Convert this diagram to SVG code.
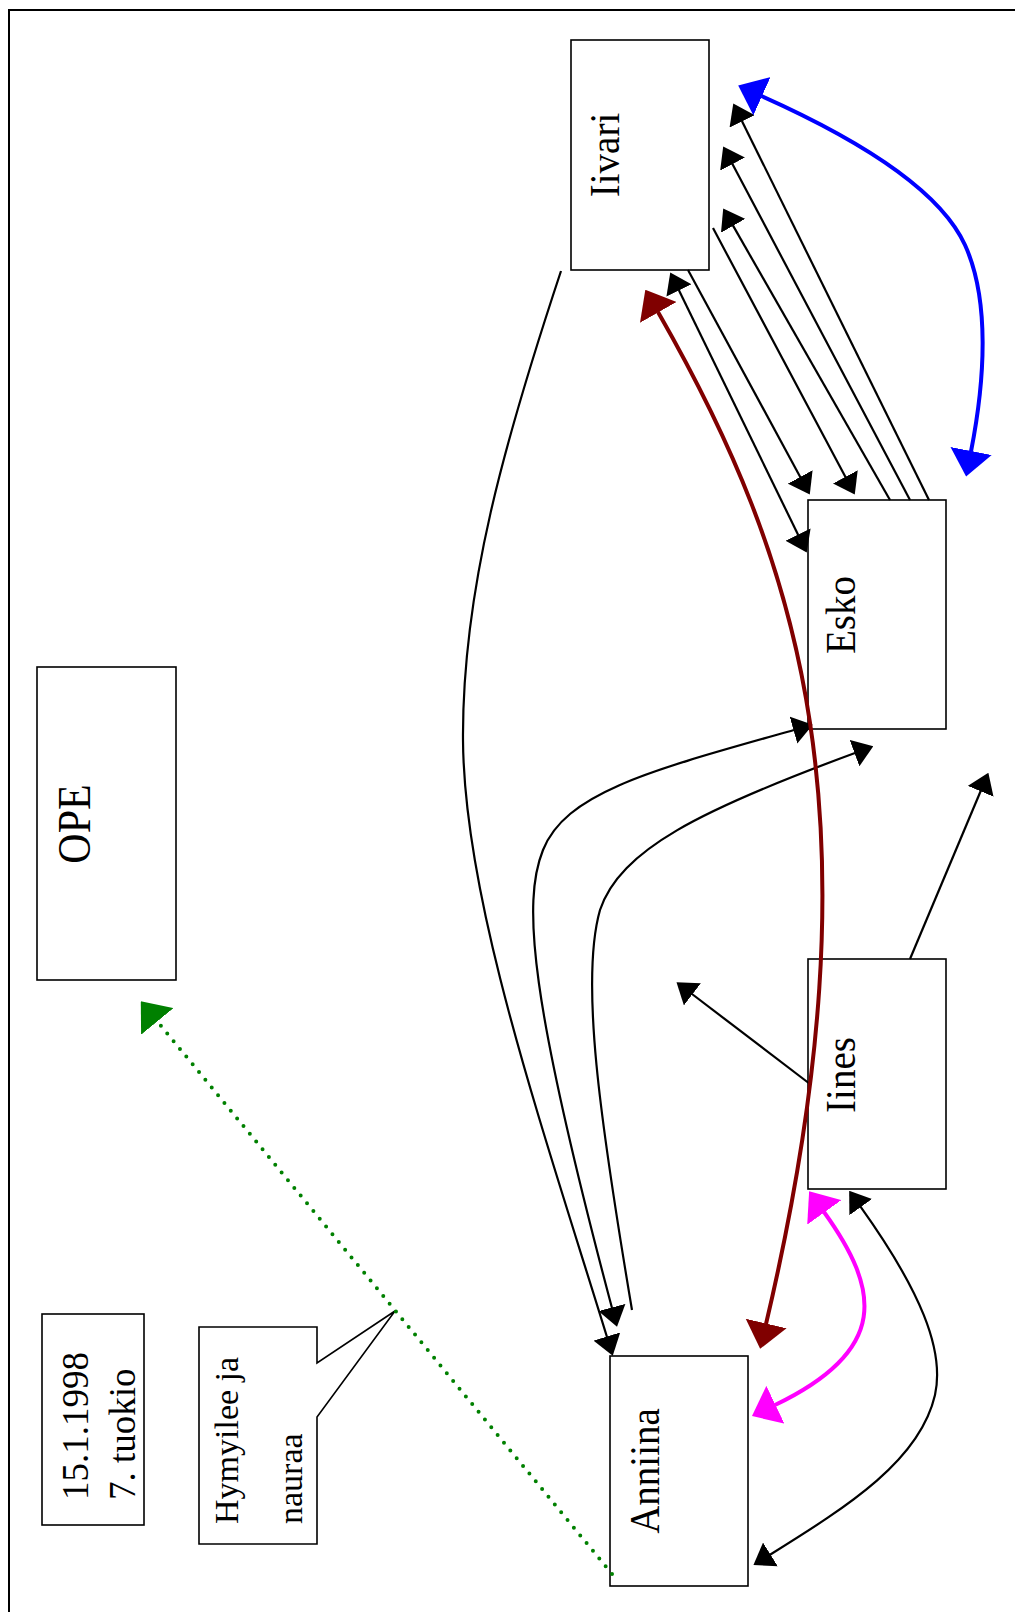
<svg xmlns="http://www.w3.org/2000/svg" width="1015" height="1612" viewBox="0 0 1015 1612">
  <style>
    .box { fill: #fff; stroke: #000; stroke-width: 1.6; }
    .lbl { font-family: "Liberation Serif", "Times New Roman", serif; fill: #000; }
    .node-lbl { font-size: 39px; text-anchor: middle; }
    .note { font-size: 37px; }
    .call { font-size: 34px; }
    .k { fill: none; stroke: #000; stroke-width: 2.2; }
    .blue { fill: none; stroke: #0000ff; stroke-width: 4; }
    .maroon { fill: none; stroke: #800000; stroke-width: 4; }
    .mag { fill: none; stroke: #ff00ff; stroke-width: 4; }
    .green { fill: none; stroke: #008000; stroke-width: 4; stroke-dasharray: 0 10; stroke-linecap: round; }
  </style>
  <defs>
    <marker id="hK" markerUnits="userSpaceOnUse" viewBox="0 -14 20 28" markerWidth="20" markerHeight="28" refX="0.5" refY="0" orient="auto-start-reverse">
      <path d="M0,-14 L20,0 L0,14 z" fill="#000"/>
    </marker>
    <marker id="hB" markerUnits="userSpaceOnUse" viewBox="0 -21 26 42" markerWidth="26" markerHeight="42" refX="0.5" refY="0" orient="auto-start-reverse">
      <path d="M0,-21 L26,0 L0,21 z" fill="#0000ff"/>
    </marker>
    <marker id="hM" markerUnits="userSpaceOnUse" viewBox="0 -21 26 42" markerWidth="26" markerHeight="42" refX="0.5" refY="0" orient="auto-start-reverse">
      <path d="M0,-21 L26,0 L0,21 z" fill="#800000"/>
    </marker>
    <marker id="hP" markerUnits="userSpaceOnUse" viewBox="0 -21 26 42" markerWidth="26" markerHeight="42" refX="0.5" refY="0" orient="auto-start-reverse">
      <path d="M0,-21 L26,0 L0,21 z" fill="#ff00ff"/>
    </marker>
    <marker id="hG" markerUnits="userSpaceOnUse" viewBox="0 -21 26 42" markerWidth="26" markerHeight="42" refX="0.5" refY="0" orient="auto">
      <path d="M0,-21 L26,0 L0,21 z" fill="#008000"/>
    </marker>
  </defs>

  <rect width="1015" height="1612" fill="#fff"/>
  <!-- page frame (top and left edges) -->
  <path d="M9,1612 V10 H1015" fill="none" stroke="#000" stroke-width="2"/>

  <g id="iivari">
    <rect class="box" x="571" y="40" width="138" height="230"/>
    <text class="lbl node-lbl" transform="translate(619,155) rotate(-90) scale(1,1.08)">Iivari</text>
  </g>
  <g id="esko">
    <rect class="box" x="808" y="500" width="138" height="229"/>
    <text class="lbl node-lbl" transform="translate(855,615) rotate(-90) scale(1,1.08)">Esko</text>
  </g>
  <g id="iines">
    <rect class="box" x="808" y="959" width="138" height="230"/>
    <text class="lbl node-lbl" transform="translate(855,1075) rotate(-90) scale(1,1.08)">Iines</text>
  </g>
  <g id="anniina">
    <rect class="box" x="610" y="1356" width="138" height="230"/>
    <text class="lbl node-lbl" transform="translate(659,1471) rotate(-90) scale(1,1.08)">Anniina</text>
  </g>
  <g id="ope">
    <rect class="box" x="37" y="667" width="139" height="313"/>
    <text class="lbl node-lbl" style="font-size:42px" transform="translate(90,824) rotate(-90) scale(1,1.08)">OPE</text>
  </g>
  <g id="date-note">
    <rect class="box" x="42" y="1314" width="102" height="211"/>
    <text class="lbl note" transform="translate(88,1500) rotate(-90)">15.1.1998</text>
    <text class="lbl note" transform="translate(135,1500) rotate(-90)">7. tuokio</text>
  </g>
  <g id="callout">
    <path class="box" d="M199,1327 H317 V1363 L395,1311 L317,1417 V1544 H199 Z"/>
    <text class="lbl call" transform="translate(238,1524) rotate(-90)">Hymyilee ja</text>
    <text class="lbl call" transform="translate(302,1524) rotate(-90)">nauraa</text>
  </g>

  <g id="connectors">
    <!-- Iivari / Esko straight links -->
    <path class="k" d="M678.8,290 L798.2,535" marker-start="url(#hK)" marker-end="url(#hK)"/>
    <path class="k" d="M688,270 L800.5,477.4" marker-end="url(#hK)"/>
    <path class="k" d="M713,228 L845.6,477.3" marker-end="url(#hK)"/>
    <path class="k" d="M890,500 L732.9,225.4" marker-end="url(#hK)"/>
    <path class="k" d="M910,500 L732.3,163.7" marker-end="url(#hK)"/>
    <path class="k" d="M929,500 L741.9,120.9" marker-end="url(#hK)"/>

    <!-- Iivari to Anniina sweep -->
    <path class="k" d="M561,271 C505,440 462,590 463,740 C464,900 540,1120 607,1337" marker-end="url(#hK)"/>
    <!-- Esko (left) and Anniina -->
    <path class="k" d="M794,730 C652,770 566,792 543,850 C522,902 530,1000 612,1308" marker-start="url(#hK)" marker-end="url(#hK)"/>
    <!-- Anniina to Esko (bottom) -->
    <path class="k" d="M632,1310 C600,1120 580,980 600,910 C620,850 700,810 855,753" marker-end="url(#hK)"/>

    <!-- Iines outgoing -->
    <path class="k" d="M910,959 L980.8,790.8" marker-end="url(#hK)"/>
    <path class="k" d="M810,1084 L692,994" marker-end="url(#hK)"/>
    <!-- Iines and Anniina -->
    <path class="k" d="M860.5,1206.7 C920,1290 945,1350 935,1395 C920,1460 850,1505 770,1554.7" marker-start="url(#hK)" marker-end="url(#hK)"/>

    <!-- coloured links -->
    <path class="blue" d="M761.5,96 C860,140 940,190 965,245 C990,300 985,380 971,451.5" marker-start="url(#hB)" marker-end="url(#hB)"/>
    <path class="mag" d="M824,1212 C880,1290 890,1350 775,1405" marker-start="url(#hP)" marker-end="url(#hP)"/>
    <path class="maroon" d="M658,312 C800,560 885,820 766,1324" marker-start="url(#hM)" marker-end="url(#hM)"/>
    <path class="green" d="M612,1574 L157,1021" marker-end="url(#hG)"/>
  </g>
</svg>
